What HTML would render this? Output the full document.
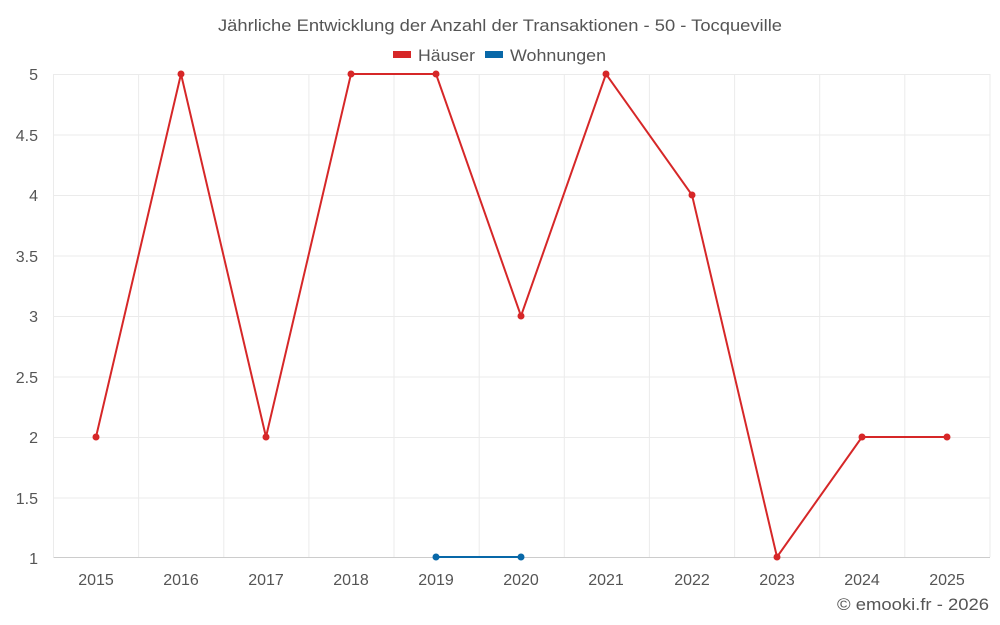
<!DOCTYPE html>
<html><head><meta charset="utf-8"><style>
body{margin:0;background:#fff;}
svg{display:block;font-family:"Liberation Sans",sans-serif;}
</style></head><body>
<svg width="1000" height="625" viewBox="0 0 1000 625">
<rect width="1000" height="625" fill="#fff"/>
<g stroke="#ebebeb" stroke-width="1">
<line x1="53.5" y1="74.5" x2="990" y2="74.5"/>
<line x1="53.5" y1="135" x2="990" y2="135"/>
<line x1="53.5" y1="195.5" x2="990" y2="195.5"/>
<line x1="53.5" y1="256" x2="990" y2="256"/>
<line x1="53.5" y1="316.5" x2="990" y2="316.5"/>
<line x1="53.5" y1="377" x2="990" y2="377"/>
<line x1="53.5" y1="437.5" x2="990" y2="437.5"/>
<line x1="53.5" y1="498" x2="990" y2="498"/>
<line x1="53.5" y1="74" x2="53.5" y2="557"/>
<line x1="138.6" y1="74" x2="138.6" y2="557"/>
<line x1="223.8" y1="74" x2="223.8" y2="557"/>
<line x1="308.9" y1="74" x2="308.9" y2="557"/>
<line x1="394" y1="74" x2="394" y2="557"/>
<line x1="479.2" y1="74" x2="479.2" y2="557"/>
<line x1="564.3" y1="74" x2="564.3" y2="557"/>
<line x1="649.4" y1="74" x2="649.4" y2="557"/>
<line x1="734.6" y1="74" x2="734.6" y2="557"/>
<line x1="819.7" y1="74" x2="819.7" y2="557"/>
<line x1="904.8" y1="74" x2="904.8" y2="557"/>
<line x1="990" y1="74" x2="990" y2="557"/>
</g>
<line x1="53.5" y1="557.5" x2="990" y2="557.5" stroke="#ccc"/>
<g font-size="16" fill="#555" text-anchor="end">
<text x="38" y="80">5</text><text x="38" y="141">4.5</text><text x="38" y="201">4</text>
<text x="38" y="262">3.5</text><text x="38" y="322">3</text><text x="38" y="383">2.5</text>
<text x="38" y="443">2</text><text x="38" y="504">1.5</text><text x="38" y="564">1</text>
</g>
<g font-size="16" fill="#555" text-anchor="middle">
<text x="96" y="585">2015</text><text x="181" y="585">2016</text><text x="266" y="585">2017</text>
<text x="351" y="585">2018</text><text x="436" y="585">2019</text><text x="521" y="585">2020</text>
<text x="606" y="585">2021</text><text x="692" y="585">2022</text><text x="777" y="585">2023</text>
<text x="862" y="585">2024</text><text x="947" y="585">2025</text>
</g>
<text x="218" y="31" font-size="17" fill="#555" textLength="564" lengthAdjust="spacingAndGlyphs">Jährliche Entwicklung der Anzahl der Transaktionen - 50 - Tocqueville</text>
<rect x="393" y="51" width="18" height="7" fill="#d62728"/>
<text x="418" y="61" font-size="17" fill="#555" textLength="57" lengthAdjust="spacingAndGlyphs">Häuser</text>
<rect x="485" y="51" width="18" height="7" fill="#0868a8"/>
<text x="510" y="61" font-size="17" fill="#555" textLength="96" lengthAdjust="spacingAndGlyphs">Wohnungen</text>
<polyline fill="none" stroke="#d62728" stroke-width="2" points="96,437 181,74 266,437 351,74 436,74 521,316 606,74 692,195 777,557 862,437 947,437"/>
<g fill="#d62728">
<circle cx="96" cy="437" r="3.5"/><circle cx="181" cy="74" r="3.5"/><circle cx="266" cy="437" r="3.5"/>
<circle cx="351" cy="74" r="3.5"/><circle cx="436" cy="74" r="3.5"/><circle cx="521" cy="316" r="3.5"/>
<circle cx="606" cy="74" r="3.5"/><circle cx="692" cy="195" r="3.5"/><circle cx="777" cy="557" r="3.5"/>
<circle cx="862" cy="437" r="3.5"/><circle cx="947" cy="437" r="3.5"/>
</g>
<polyline fill="none" stroke="#0868a8" stroke-width="2" points="436,557 521,557"/>
<circle cx="436" cy="557" r="3.5" fill="#0868a8"/><circle cx="521" cy="557" r="3.5" fill="#0868a8"/>
<text x="837" y="610" font-size="17" fill="#555" textLength="152" lengthAdjust="spacingAndGlyphs">© emooki.fr - 2026</text>
</svg>
</body></html>
